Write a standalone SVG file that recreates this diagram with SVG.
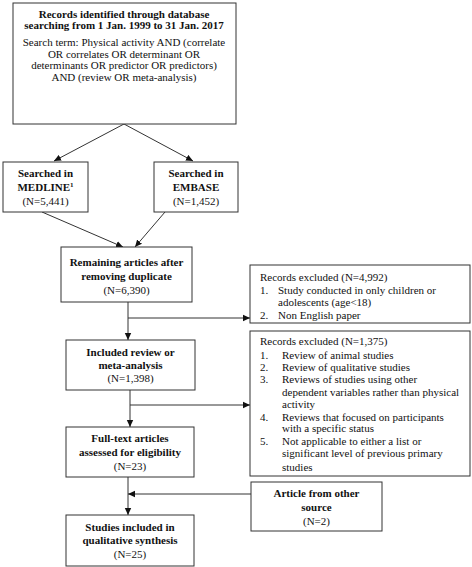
<svg xmlns="http://www.w3.org/2000/svg" width="472" height="567" viewBox="0 0 472 567">
<style>
.box{fill:#fff;stroke:#333;stroke-width:1}
.ln{fill:none;stroke:#333;stroke-width:1}
text{font-family:"Liberation Serif","Times New Roman",serif;font-size:11px;fill:#111}
.b{font-weight:bold}
.c{text-anchor:middle}
</style>
<defs>
<marker id="ah" markerWidth="8" markerHeight="8" refX="7" refY="4" orient="auto" markerUnits="userSpaceOnUse">
<path d="M0,0.8 L7,4 L0,7.2 Z" fill="#111"/>
</marker>
</defs>
<rect width="472" height="567" fill="#fff"/>
<g id="connectors">
<line class="ln" x1="124" y1="124" x2="54" y2="161" marker-end="url(#ah)"/>
<line class="ln" x1="124" y1="124" x2="193" y2="161" marker-end="url(#ah)"/>
<line class="ln" x1="42" y1="212" x2="123" y2="247" marker-end="url(#ah)"/>
<line class="ln" x1="165" y1="212" x2="135" y2="247" marker-end="url(#ah)"/>
<line class="ln" x1="128" y1="302" x2="128" y2="340" marker-end="url(#ah)"/>
<line class="ln" x1="128" y1="318" x2="250" y2="318" marker-end="url(#ah)"/>
<line class="ln" x1="130" y1="390" x2="130" y2="427" marker-end="url(#ah)"/>
<line class="ln" x1="130" y1="405" x2="250" y2="405" marker-end="url(#ah)"/>
<line class="ln" x1="128" y1="477" x2="128" y2="515" marker-end="url(#ah)"/>
<line class="ln" x1="251" y1="494" x2="128" y2="494" marker-end="url(#ah)"/>
</g>
<g id="search">
<rect class="box" x="13" y="3" width="223" height="121"/>
<text class="b c" x="124" y="18">Records identified through database</text>
<text class="b c" x="124" y="29">searching from 1 Jan. 1999 to 31 Jan. 2017</text>
<text class="c" x="124" y="46">Search term: Physical activity AND (correlate</text>
<text class="c" x="124" y="57.5">OR correlates OR determinant OR</text>
<text class="c" x="124" y="69">determinants OR predictor OR predictors)</text>
<text class="c" x="124" y="80.5">AND (review OR meta-analysis)</text>
</g>
<g id="medline">
<rect class="box" x="3" y="162" width="85" height="50"/>
<text class="b c" x="45.5" y="177">Searched in</text>
<text class="b c" x="45.5" y="191">MEDLINE<tspan font-size="7" dy="-4">1</tspan></text>
<text class="c" x="45.5" y="205">(N=5,441)</text>
</g>
<g id="embase">
<rect class="box" x="154" y="162" width="84" height="50"/>
<text class="b c" x="196" y="177">Searched in</text>
<text class="b c" x="196" y="191">EMBASE</text>
<text class="c" x="196" y="205">(N=1,452)</text>
</g>
<g id="remaining">
<rect class="box" x="61" y="247" width="131" height="55"/>
<text class="b c" x="126.5" y="266">Remaining articles after</text>
<text class="b c" x="126.5" y="280">removing duplicate</text>
<text class="c" x="126.5" y="294">(N=6,390)</text>
</g>
<g id="excluded1">
<rect class="box" x="250" y="265" width="220" height="58"/>
<text x="260" y="281">Records excluded (N=4,992)</text>
<text x="260" y="294">1.</text><text x="278" y="294">Study conducted in only children or</text>
<text x="278" y="306">adolescents (age&lt;18)</text>
<text x="260" y="319">2.</text><text x="278" y="319">Non English paper</text>
</g>
<g id="included">
<rect class="box" x="66" y="340" width="129" height="50"/>
<text class="b c" x="130.5" y="356">Included review or</text>
<text class="b c" x="130.5" y="369">meta-analysis</text>
<text class="c" x="130.5" y="382">(N=1,398)</text>
</g>
<g id="excluded2">
<rect class="box" x="250" y="331" width="220" height="145"/>
<text x="260" y="345">Records excluded (N=1,375)</text>
<text x="260" y="358.5">1.</text><text x="282" y="358.5">Review of animal studies</text>
<text x="260" y="371">2.</text><text x="282" y="371">Review of qualitative studies</text>
<text x="260" y="383">3.</text><text x="282" y="383">Reviews of studies using other</text>
<text x="282" y="395.5">dependent variables rather than physical</text>
<text x="282" y="408">activity</text>
<text x="260" y="420.5">4.</text><text x="282" y="420.5">Reviews that focused on participants</text>
<text x="282" y="432">with a specific status</text>
<text x="260" y="445">5.</text><text x="282" y="445">Not applicable to either a list or</text>
<text x="282" y="457">significant level of previous primary</text>
<text x="282" y="471">studies</text>
</g>
<g id="fulltext">
<rect class="box" x="66" y="427" width="128" height="50"/>
<text class="b c" x="130" y="442">Full-text articles</text>
<text class="b c" x="130" y="456">assessed for eligibility</text>
<text class="c" x="130" y="470">(N=23)</text>
</g>
<g id="other">
<rect class="box" x="251" y="482" width="131" height="49"/>
<text class="b c" x="316.5" y="497">Article from other</text>
<text class="b c" x="316.5" y="511">source</text>
<text class="c" x="316.5" y="525">(N=2)</text>
</g>
<g id="studies">
<rect class="box" x="66" y="515" width="128" height="51"/>
<text class="b c" x="130" y="531">Studies included in</text>
<text class="b c" x="130" y="544">qualitative synthesis</text>
<text class="c" x="130" y="558">(N=25)</text>
</g>
</svg>
